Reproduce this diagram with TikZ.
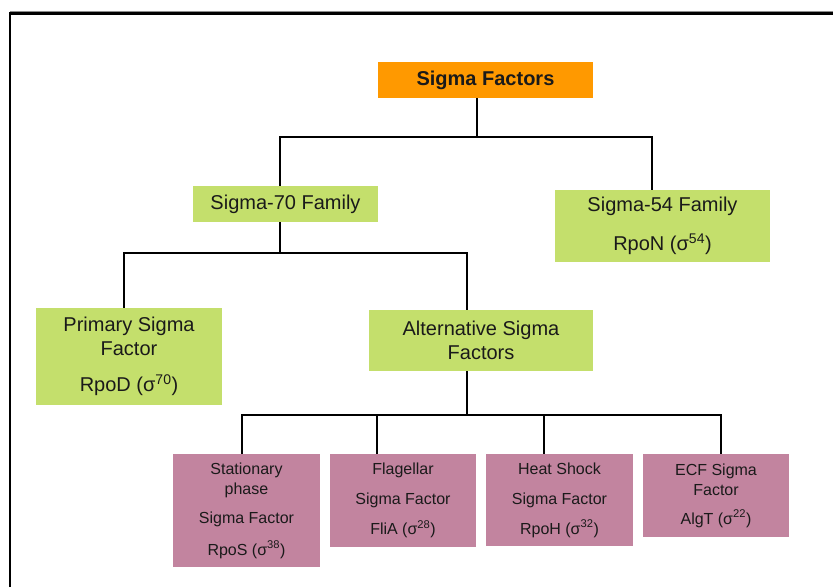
\documentclass[tikz,border=0pt]{standalone}
\usepackage{fontspec}
\setmainfont{Liberation Sans}
\definecolor{orangefill}{HTML}{FF9900}
\definecolor{greenfill}{HTML}{C4DF6C}
\definecolor{pinkfill}{HTML}{C2849F}
\definecolor{txt}{HTML}{1A1A1A}
\begin{document}
\begin{tikzpicture}[x=1pt,y=-1pt,
  basebox/.style={rectangle, inner sep=0pt, align=center, text=txt},
  obox/.style={basebox, fill=orangefill, font=\fontsize{20}{24}\selectfont\bfseries},
  gbox/.style={basebox, fill=greenfill, font=\fontsize{20}{24}\selectfont},
  pbox/.style={basebox, fill=pinkfill, font=\fontsize{16}{20}\selectfont},
  conn/.style={draw=black, line width=2.3pt}]
\useasboundingbox (0,0) rectangle (833,587);
% frame
\draw[line width=2.4pt] (10,587) -- (10,13.5) -- (833,13.5);
\draw[line width=0.8pt, black!45] (10,11.6) -- (833,11.6);

\node[obox, minimum width=215pt, minimum height=36pt] (sf) at (485.5,80) {Sigma Factors};
\node[gbox, minimum width=185pt, minimum height=36pt] (s70) at (285.5,204) {Sigma-70 Family};
\node[gbox, minimum width=215pt, minimum height=72pt] (s54) at (662.5,226) {Sigma-54 Family\\[15pt]RpoN (σ\textsuperscript{54})};
\node[gbox, minimum width=186pt, minimum height=97pt] (prim) at (129,356.5) {Primary Sigma\\Factor\\[12pt]RpoD (σ\textsuperscript{70})};
\node[gbox, minimum width=224pt, minimum height=61pt] (alt) at (481,340.5) {Alternative Sigma\\Factors};
\node[pbox, minimum width=147pt, minimum height=113pt] (st) at (246.5,510.5) {Stationary\\phase\\[9pt]Sigma Factor\\[12pt]RpoS (σ\textsuperscript{38})};
\node[pbox, minimum width=146pt, minimum height=93pt] (fl) at (403,500.5) {Flagellar\\[10pt]Sigma Factor\\[10pt]FliA (σ\textsuperscript{28})};
\node[pbox, minimum width=147pt, minimum height=92pt] (hs) at (559.5,500) {Heat Shock\\[10pt]Sigma Factor\\[10pt]RpoH (σ\textsuperscript{32})};
\node[pbox, minimum width=146pt, minimum height=83pt] (ecf) at (716,495.5) {ECF Sigma\\Factor\\[9pt]AlgT (σ\textsuperscript{22})};

\coordinate (j0) at (477,137);
\coordinate (j1) at (280,253);
\coordinate (j2) at (467,415);

\draw[conn] ([xshift=-8.5pt]sf.south) -- (j0);
\draw[conn] ([xshift=-5.5pt]s70.north) |- (j0) -| ([xshift=-10.5pt]s54.north);
\draw[conn] ([xshift=-5.5pt]s70.south) -- (j1);
\draw[conn] ([xshift=-5pt]prim.north) |- (j1) -| ([xshift=-14pt]alt.north);
\draw[conn] ([xshift=-14pt]alt.south) -- (j2);
\draw[conn] ([xshift=-4.5pt]st.north) |- (j2) -| ([xshift=5pt]ecf.north);
\draw[conn] ([xshift=-26pt]fl.north) -- ([xshift=-26pt]fl.north |- j2);
\draw[conn] ([xshift=-15.5pt]hs.north) -- ([xshift=-15.5pt]hs.north |- j2);
\end{tikzpicture}
\end{document}
